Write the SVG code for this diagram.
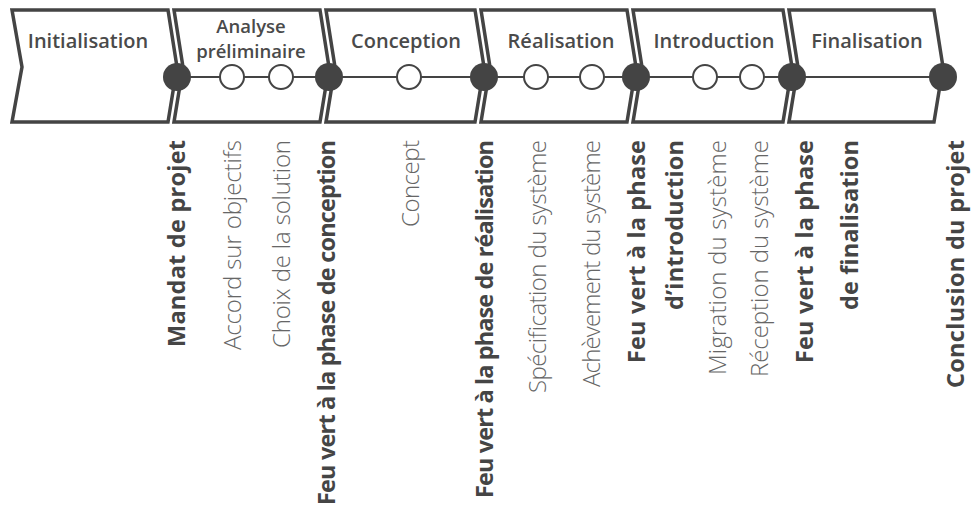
<svg xmlns="http://www.w3.org/2000/svg" width="973" height="511" viewBox="0 0 973 511">
<style>
.ph{fill:#fff;stroke:#444;stroke-width:3.5;stroke-linejoin:miter}
.tt{font-family:"Open Sans","Liberation Sans",sans-serif;font-weight:600;font-size:20px;fill:#4a4a4a;text-anchor:middle}
.t2{font-size:18.5px}
.ln{stroke:#444;stroke-width:2;fill:none}
.dot{fill:#444}
.oc{fill:#fff;stroke:#444;stroke-width:2}
.lb{font-family:"Open Sans","Liberation Sans",sans-serif;font-weight:700;font-size:23.5px;fill:#454545;text-anchor:end}
.ll{font-family:"Open Sans","Liberation Sans",sans-serif;font-weight:300;font-size:24px;fill:#666;text-anchor:end}
</style>
<rect width="973" height="511" fill="#fff"/>
<g id="phase-initialisation">
<polygon class="ph" points="12,10 168,10 177,67 168,122 12,122 22,67"/>
<text class="tt" x="88" y="48">Initialisation</text>
</g>
<g id="phase-analyse">
<polygon class="ph" points="174,10 320,10 329,67 320,122 174,122 183,67"/>
<text class="tt t2" x="251" y="33">Analyse</text>
<text class="tt t2" x="251" y="58">préliminaire</text>
</g>
<g id="phase-conception">
<polygon class="ph" points="326,10 475,10 484,67 475,122 326,122 335,67"/>
<text class="tt" x="406" y="48">Conception</text>
</g>
<g id="phase-realisation">
<polygon class="ph" points="481,10 627,10 636,67 627,122 481,122 490,67"/>
<text class="tt" x="561" y="48">Réalisation</text>
</g>
<g id="phase-introduction">
<polygon class="ph" points="633,10 783,10 792,67 783,122 633,122 642,67"/>
<text class="tt" x="714" y="48">Introduction</text>
</g>
<g id="phase-finalisation">
<polygon class="ph" points="789,10 934,10 943,67 934,122 789,122 798,67"/>
<text class="tt" x="867" y="48">Finalisation</text>
</g>
<g id="connectors">
<line class="ln" x1="177" y1="77" x2="943" y2="77"/>
</g>
<g id="m-mandat"><circle class="dot" cx="177" cy="77" r="14"/>
<text class="lb" transform="translate(185,140) rotate(-90)" textLength="207">Mandat de projet</text></g>
<g id="m-accord"><circle class="oc" cx="232" cy="77" r="12"/>
<text class="ll" transform="translate(241,140) rotate(-90)" textLength="210">Accord sur objectifs</text></g>
<g id="m-choix"><circle class="oc" cx="281" cy="77" r="12"/>
<text class="ll" transform="translate(290,140) rotate(-90)" textLength="208">Choix de la solution</text></g>
<g id="m-fv-conception"><circle class="dot" cx="329" cy="77" r="14"/>
<text class="lb" transform="translate(335,140) rotate(-90)" textLength="365">Feu vert à la phase de conception</text></g>
<g id="m-concept"><circle class="oc" cx="409" cy="77" r="12"/>
<text class="ll" transform="translate(419,140) rotate(-90)" textLength="87">Concept</text></g>
<g id="m-fv-realisation"><circle class="dot" cx="484" cy="77" r="14"/>
<text class="lb" transform="translate(493,140) rotate(-90)" textLength="358">Feu vert à la phase de réalisation</text></g>
<g id="m-specification"><circle class="oc" cx="536" cy="77" r="12"/>
<text class="ll" transform="translate(546,140) rotate(-90)" textLength="253">Spécification du système</text></g>
<g id="m-achevement"><circle class="oc" cx="592" cy="77" r="12"/>
<text class="ll" transform="translate(600,140) rotate(-90)" textLength="247">Achèvement du système</text></g>
<g id="m-fv-introduction"><circle class="dot" cx="636" cy="77" r="14"/>
<text class="lb" transform="translate(645,140) rotate(-90)" textLength="223">Feu vert à la phase</text>
<text class="lb" transform="translate(683,140) rotate(-90)" textLength="170">d’introduction</text></g>
<g id="m-migration"><circle class="oc" cx="705" cy="77" r="12"/>
<text class="ll" transform="translate(726,140) rotate(-90)" textLength="235">Migration du système</text></g>
<g id="m-reception"><circle class="oc" cx="752" cy="77" r="12"/>
<text class="ll" transform="translate(768,140) rotate(-90)" textLength="237">Réception du système</text></g>
<g id="m-fv-finalisation"><circle class="dot" cx="792" cy="77" r="14"/>
<text class="lb" transform="translate(813,140) rotate(-90)" textLength="223">Feu vert à la phase</text>
<text class="lb" transform="translate(858,140) rotate(-90)" textLength="170">de finalisation</text></g>
<g id="m-conclusion"><circle class="dot" cx="943" cy="77" r="14"/>
<text class="lb" transform="translate(964,140) rotate(-90)" textLength="248">Conclusion du projet</text></g>
</svg>
